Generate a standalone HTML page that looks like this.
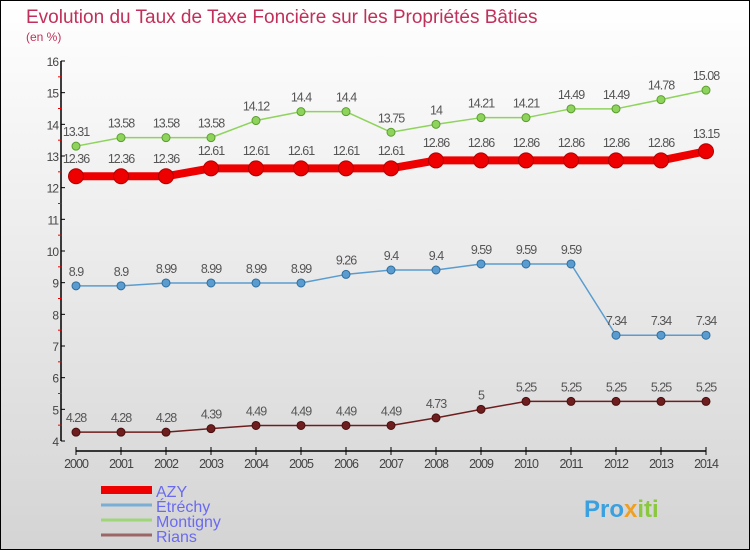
<!DOCTYPE html>
<html><head><meta charset="utf-8"><style>
body{margin:0}
#wrap{position:relative;width:750px;height:550px;box-sizing:border-box;border:1px solid #000;background:linear-gradient(#ffffff,#d4d4d4);font-family:"Liberation Sans",sans-serif;overflow:hidden}
</style></head><body>
<div id="wrap">
<svg id="chart" width="750" height="550"></svg>
</div>
<script>
const years=[2000,2001,2002,2003,2004,2005,2006,2007,2008,2009,2010,2011,2012,2013,2014];
const azy=[12.36,12.36,12.36,12.61,12.61,12.61,12.61,12.61,12.86,12.86,12.86,12.86,12.86,12.86,13.15];
const etrechy=[8.9,8.9,8.99,8.99,8.99,8.99,9.26,9.4,9.4,9.59,9.59,9.59,7.34,7.34,7.34];
const montigny=[13.31,13.58,13.58,13.58,14.12,14.4,14.4,13.75,14,14.21,14.21,14.49,14.49,14.78,15.08];
const rians=[4.28,4.28,4.28,4.39,4.49,4.49,4.49,4.49,4.73,5,5.25,5.25,5.25,5.25,5.25];
const yTicks=[4,5,6,7,8,9,10,11,12,13,14,15,16];
const seriesNames=["AZY","Étréchy","Montigny","Rians"];

const NS="http://www.w3.org/2000/svg";
const svg=document.getElementById('chart');
function xS(i){return 75+i*45;}
function yS(v){return 440-(v-4)*(380/12);}
function mk(tag,attrs,parent){const e=document.createElementNS(NS,tag);for(const k in attrs)e.setAttribute(k,attrs[k]);(parent||svg).appendChild(e);return e;}
function txt(x,y,s,attrs,parent){const t=mk('text',Object.assign({x:x,y:y},attrs),parent);t.textContent=s;return t;}

let t=txt(25,22,"Evolution du Taux de Taxe Foncière sur les Propriétés Bâties",{fill:"#c0305a","font-size":19});


t=txt(25,40,"(en %)",{fill:"#c0305a","font-size":12});



let ax=mk('line',{x1:60,y1:60,x2:60,y2:440,stroke:"#000","stroke-width":1.5});


yTicks.forEach(v=>{
  mk('line',{x1:60,y1:yS(v),x2:64,y2:yS(v),stroke:"#000"});
  if(v<16) mk('line',{x1:57,y1:yS(v+0.5),x2:61,y2:yS(v+0.5),stroke:"#e00"});
  const l=txt(57,yS(v)+5,String(v),{"text-anchor":"end","font-size":12,fill:"#444","letter-spacing":"-1"});
  
  
});
ax=mk('line',{x1:xS(0),y1:450,x2:xS(years.length-1),y2:450,stroke:"#000","stroke-width":1.5});


years.forEach((y,i)=>{
  mk('line',{x1:xS(i),y1:446,x2:xS(i),y2:454,stroke:"#000"});
  const l=txt(xS(i),467,String(y),{"text-anchor":"middle","font-size":12.5,fill:"#444","letter-spacing":"-1"});
  
  
});

function series(data,color,dark,lw,r,name){
  const g=mk('g',{});
  
  
  mk('polyline',{points:data.map((v,i)=>xS(i)+","+yS(v)).join(" "),fill:"none",stroke:color,"stroke-width":lw,"stroke-linejoin":"round"},g);
  data.forEach((v,i)=>{
    const c=mk('circle',{cx:xS(i),cy:yS(v),r:r,fill:color,stroke:dark,"stroke-width":1},g);
    
    
    const l=txt(xS(i),yS(v)-r-6,String(v),{"text-anchor":"middle","font-size":12.5,fill:"#555","letter-spacing":"-1"},g);
    
    
  });
}
series(montigny,"#8ed35c","#5a9e2e",1.5,4,"montigny");
series(etrechy,"#5a9ccf","#2e6e9e",1.5,4,"etrechy");
series(rians,"#6e1e1e","#4a0e0e",1.5,4,"rians");
series(azy,"#ee0000","#b00000",8,7.5,"azy");

const lc=["#ee0000","#7aaed4","#9fd67a","#9a6666"];
const lw=[8,3,3,3];
seriesNames.forEach((n,i)=>{
  const y=494+i*15;
  const g=mk('g',{});
  
  
  mk('line',{x1:100,y1:y-5,x2:151,y2:y-5,stroke:lc[i],"stroke-width":lw[i]},g);
  txt(155,y+2,n,{"font-size":16,fill:"#6a6af0"},g);
});
t=mk('text',{x:583,y:516,"font-size":24,"font-weight":"bold"});


t.innerHTML='<tspan fill="#3aa0e0">Pro</tspan><tspan fill="#f0a020">x</tspan><tspan fill="#8ac840">iti</tspan>';
</script>
</body></html>
